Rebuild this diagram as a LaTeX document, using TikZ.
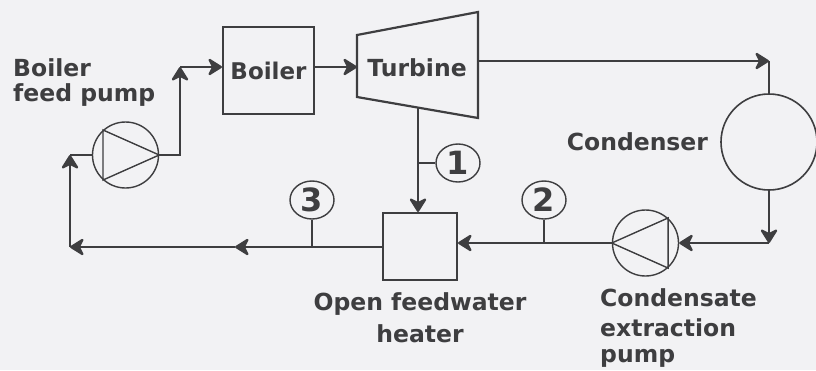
\documentclass[tikz,border=0pt]{standalone}
\usepackage{fontspec}
\setmainfont{DejaVu Sans}
\usetikzlibrary{arrows.meta,positioning,shapes.geometric}
\definecolor{ink}{RGB}{62,62,64}
\definecolor{paper}{RGB}{242,242,244}
\tikzset{>={Stealth[length=16pt, width=20pt, inset=5pt, round]}}

\begin{document}
\begin{tikzpicture}[x=1pt, y=-1pt,
box/.style={draw=ink, line width=2pt, text=ink, font=\fontsize{23}{25}\selectfont\bfseries},
pumpc/.style={circle, draw=ink, line width=1.4pt, minimum size=66pt, inner sep=0pt},
num/.style={ellipse, draw=ink, line width=1.4pt, minimum width=44pt, minimum height=38pt, inner sep=0pt, text=ink, font=\fontsize{32}{32}\selectfont\bfseries},
lbl/.style={text=ink, inner sep=0pt, font=\fontsize{23.5}{25}\selectfont\bfseries},
flow/.style={draw=ink, line width=2.2pt, ->},
pipe/.style={draw=ink, line width=2.2pt},
tap/.style={draw=ink, line width=1.4pt}
]
\fill[paper] (0,0) rectangle (816,370);
\useasboundingbox (0,0) rectangle (816,370);
%Nodes
\node[box, minimum width=91pt, minimum height=87pt] (boiler) at (268.5,70.5) {Boiler};
\coordinate (t1) at (357,35);
\coordinate (t2) at (478,12);
\coordinate (t3) at (478,118);
\coordinate (t4) at (357,97);
\draw[pipe] (t1) -- (t2) -- (t3) -- (t4) -- cycle;
\node[lbl]       (turbine)  at (417,68)                     {Turbine};
\node[circle, draw=ink, line width=1.6pt, minimum size=96pt] (cond) at (769,142) {};
\node[lbl]       (condlbl)  [left=12pt of cond]             {Condenser};
\node[pumpc]     (cp)       at (645.5,243)                  {};
\node[box, minimum width=74pt, minimum height=67pt] (heater) at (420,246.5) {};
\node[lbl, align=center, anchor=north] (heatlbl) at (420,292) {Open feedwater\\[7pt]heater};
\node[pumpc]     (fp)       at (125.5,155)                  {};
\node[lbl, align=left, anchor=north west] (fplbl) at (13,58.5) {Boiler\\feed pump};
\node[lbl, align=left, anchor=north west] (cplbl) at (600,288) {Condensate\\[5pt]extraction\\[1pt]pump};
\node[num]       (n1)       at (458,163)                    {1};
\node[num]       (n2)       at (544,200)                    {2};
\node[num]       (n3)       at (312,200)                    {3};
%Pump symbols
\draw[tap] (fp.0) -- (fp.132) -- (fp.228) -- cycle;
\draw[tap] (cp.180) -- (cp.48) -- (cp.-48) -- cycle;
%Corners
\coordinate (fpup) at (180,67);
\coordinate (tout) at (478,61);
\coordinate (cin)  at (769,61);
\coordinate (cout) at (769,243);
\coordinate (tbot) at (418,108);
\coordinate (mid)  at (235,247);
\coordinate (ret)  at (70,247);
\coordinate (retup) at (70,155);
%Lines
\draw[flow] (fp.east) -| (fpup);
\draw[flow] (fpup) -- (fpup -| boiler.west);
\draw[flow] (boiler.east |- fpup) -- (t1 |- fpup);
\draw[flow] (tout) -- (cin);
\draw[pipe] (cin) -- (cond.north);
\draw[flow] (cond.south) -- (cout);
\draw[flow] (cout) -- (cp.east);
\draw[flow] (cp.west) -- (cp.west -| heater.east);
\draw[flow] (tbot) -- (tbot |- heater.north);
\draw[flow] (heater.west |- ret) -- (mid);
\draw[flow] (mid) -- (ret);
\draw[flow] (ret) -- (retup);
\draw[pipe] (retup) -- (fp.west);
%Taps
\draw[tap] (n1.west) -- (n1.west -| tbot);
\draw[tap] (n2.south) -- (n2.south |- cp.west);
\draw[tap] (n3.south) -- (n3.south |- ret);
\end{tikzpicture}
\end{document}
